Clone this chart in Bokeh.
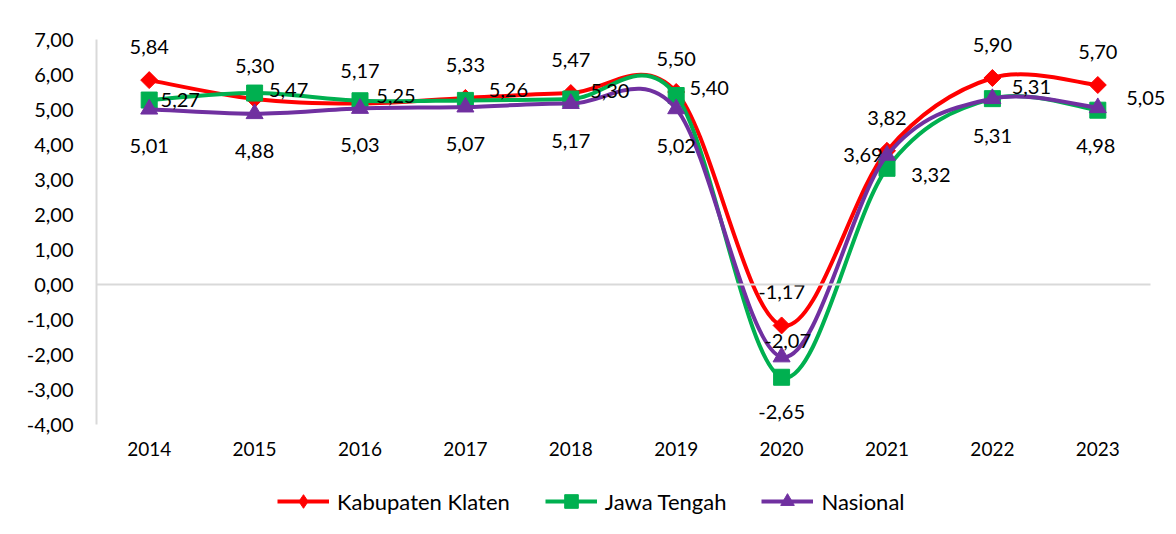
import numpy as np
from bokeh.plotting import figure
from bokeh.layouts import column
from bokeh.models import (Range1d, FixedTicker, ColumnDataSource, Legend, LegendItem,
                          LinearAxis, BoxAnnotation)
from bokeh.core.properties import value
from bokeh.embed import file_html
from bokeh.resources import INLINE

# ---------------- data ----------------
years = [2014, 2015, 2016, 2017, 2018, 2019, 2020, 2021, 2022, 2023]
klaten = [5.84, 5.30, 5.17, 5.33, 5.47, 5.50, -1.17, 3.82, 5.90, 5.70]
jateng = [5.27, 5.47, 5.25, 5.26, 5.30, 5.40, -2.65, 3.32, 5.31, 4.98]
nasional = [5.01, 4.88, 5.03, 5.07, 5.17, 5.02, -2.07, 3.69, 5.31, 5.05]
series_names = ["Kabupaten Klaten", "Jawa Tengah", "Nasional"]
y_ticks = [-4, -3, -2, -1, 0, 1, 2, 3, 4, 5, 6, 7]

# ---------------- styles ----------------
FONT = "Lato"
FS = "20px"
colors = ["#FF0000", "#00B050", "#7030A0"]
markers = ["square", "square", "triangle"]
legend_markers = ["diamond", "square", "triangle"]
mangles = [np.pi / 4, 0.0, 0.0]
msizes = [12, 16, 17]
# label offsets in screen px (dx, dy; dy positive = down)
label_dx = [
    [0] * 10,
    [31, 34, 36, 43, 39, 33, 0, 44, 39, -2],
    [0, 0, 0, 0, 0, 0, 6, -24, 0, 48],
]
label_dy = [
    [-33] * 10,
    [0, -3, -5, -10, -8, -8, 35, 7, -12, 36],
    [37, 37, 37, 37, 37, 37, -16, 0, 37, -10],
]

# layout in pixels
W, H = 1176, 534
H_LEG = 64
H_MAIN = H - H_LEG
LEFT, RIGHT_AX, TOP_AX, BOTTOM_AX = 96, 1150, 39, 424   # axis box in px
FRAME_TOP, FRAME_RIGHT = 20, W
Y0, Y1 = -4, 7
X0, X1 = 2013.5, 2023.5
ppy = (BOTTOM_AX - TOP_AX) / (Y1 - Y0)
ppx = (RIGHT_AX - LEFT) / (X1 - X0)
y_top = Y1 + (TOP_AX - FRAME_TOP) / ppy
x_right = X1 + (FRAME_RIGHT - RIGHT_AX) / ppx
BORDER = "#D9D9D9"

p = figure(width=W, height=H_MAIN, output_backend="svg", toolbar_location=None,
           x_range=Range1d(X0, x_right), y_range=Range1d(Y0, y_top),
           min_border_left=LEFT, min_border_right=W - FRAME_RIGHT,
           min_border_top=FRAME_TOP, min_border_bottom=H_MAIN - BOTTOM_AX)
p.outline_line_color = None
p.xgrid.grid_line_color = None
p.ygrid.grid_line_color = None
p.background_fill_color = "white"
p.border_fill_color = "white"

# y axis
p.yaxis.ticker = FixedTicker(ticks=y_ticks)
p.yaxis.bounds = (Y0, Y1)
p.yaxis.major_label_overrides = {t: f"{t:.2f}".replace(".", ",") for t in y_ticks}
p.yaxis.axis_line_color = BORDER
p.yaxis.axis_line_width = 2
p.yaxis.major_tick_line_color = None
p.yaxis.minor_tick_line_color = None
p.yaxis.major_tick_out = 0
p.yaxis.major_tick_in = 0
p.yaxis.major_label_standoff = 23
p.yaxis.major_label_text_font = FONT
p.yaxis.major_label_text_font_size = FS
p.yaxis.major_label_text_color = "#000000"

# x axis (labels)
p.xaxis.ticker = FixedTicker(ticks=years)
p.xaxis.major_label_overrides = {y: str(y) for y in years}
p.xaxis.axis_line_color = None
p.xaxis.major_tick_line_color = None
p.xaxis.minor_tick_line_color = None
p.xaxis.major_tick_out = 0
p.xaxis.major_tick_in = 0
p.xaxis.major_label_standoff = 17
p.xaxis.major_label_text_font = FONT
p.xaxis.major_label_text_font_size = "19px"
p.xaxis.major_label_text_color = "#000000"

# horizontal axis line at zero (an axis fixed at 0, no labels)
zero_axis = LinearAxis(fixed_location=0, bounds=(X0, X1), ticker=FixedTicker(ticks=[]),
                       axis_line_color=BORDER, axis_line_width=2,
                       major_tick_line_color=None, minor_tick_line_color=None,
                       major_label_text_font_size="0px")
p.add_layout(zero_axis, "below")

# chart-area border (top and left edges)
p.add_layout(BoxAnnotation(left=7, right=W + 20, top=10, bottom=H_MAIN + 20,
                           left_units="canvas", right_units="canvas",
                           top_units="canvas", bottom_units="canvas",
                           fill_alpha=0, line_color=BORDER, line_width=2))


def smooth_controls(xs, ys):
    xs = np.asarray(xs, float)
    ys = np.asarray(ys, float)
    n = len(xs)
    xp = np.concatenate([[xs[0]], xs, [xs[-1]]])
    yp = np.concatenate([[ys[0]], ys, [ys[-1]]])
    x0, y0, x1, y1 = xs[:-1], ys[:-1], xs[1:], ys[1:]
    cx0 = x0 + (xp[2:n + 1] - xp[0:n - 1]) / 6.0
    cy0 = y0 + (yp[2:n + 1] - yp[0:n - 1]) / 6.0
    cx1 = x1 - (xp[3:n + 2] - xp[1:n]) / 6.0
    cy1 = y1 - (yp[3:n + 2] - yp[1:n]) / 6.0
    return dict(x0=x0, y0=y0, x1=x1, y1=y1, cx0=cx0, cy0=cy0, cx1=cx1, cy1=cy1)


# legend figure (its own renderers lie outside its visible ranges)
pl = figure(width=W, height=H_LEG, output_backend="svg", toolbar_location=None,
            x_range=Range1d(0, 1), y_range=Range1d(0, 1),
            min_border_left=0, min_border_right=0, min_border_top=0, min_border_bottom=0)
pl.axis.visible = False
pl.grid.visible = False
pl.outline_line_color = None
pl.background_fill_color = "white"
pl.border_fill_color = "white"
pl.add_layout(BoxAnnotation(left=7, right=W + 20, top=-20, bottom=H_LEG + 20,
                            left_units="canvas", right_units="canvas",
                            top_units="canvas", bottom_units="canvas",
                            fill_alpha=0, line_color=BORDER, line_width=2))

items = []
all_series = [klaten, jateng, nasional]
for i, vals in enumerate(all_series):
    ctrl = smooth_controls(years, vals)
    src = ColumnDataSource(ctrl)
    pts = ColumnDataSource(dict(x=years, y=vals))
    p.bezier(x0="x0", y0="y0", x1="x1", y1="y1", cx0="cx0", cy0="cy0",
             cx1="cx1", cy1="cy1", source=src, line_color=colors[i], line_width=4)
    p.scatter(x="x", y="y", source=pts, marker=markers[i], size=msizes[i],
              angle=mangles[i], fill_color=colors[i], line_color=colors[i], line_width=1)
    lbr = pl.bezier(x0="x0", y0="y0", x1="x1", y1="y1", cx0="cx0", cy0="cy0",
                    cx1="cx1", cy1="cy1", source=ColumnDataSource(ctrl),
                    line_color=colors[i], line_width=4)
    lsr = pl.scatter(x="x", y="y", source=ColumnDataSource(dict(x=years, y=vals)),
                     marker=legend_markers[i], size=msizes[i],
                     fill_color=colors[i], line_color=colors[i], line_width=1)
    items.append(LegendItem(label=series_names[i], renderers=[lbr, lsr]))

# data labels
for i, vals in enumerate(all_series):
    lsrc = ColumnDataSource(dict(
        x=years, y=vals,
        t=[f"{v:.2f}".replace(".", ",") for v in vals],
        dx=label_dx[i], dy=label_dy[i]))
    p.text(x="x", y="y", text="t", source=lsrc, x_offset="dx", y_offset="dy",
           text_align="center", text_baseline="middle", text_font=value(FONT),
           text_font_size=FS, text_color="#000000")

legend = Legend(items=items, orientation="horizontal", location=(181, 16),
                glyph_width=52, glyph_height=34, label_standoff=8, spacing=35,
                label_text_font=FONT, label_text_font_size="22px",
                label_text_color="#000000", border_line_color=None,
                background_fill_alpha=0, padding=4, margin=0)
pl.add_layout(legend, "center")

layout = column(p, pl, spacing=0)
open("out.html", "w").write(file_html(layout, INLINE))
